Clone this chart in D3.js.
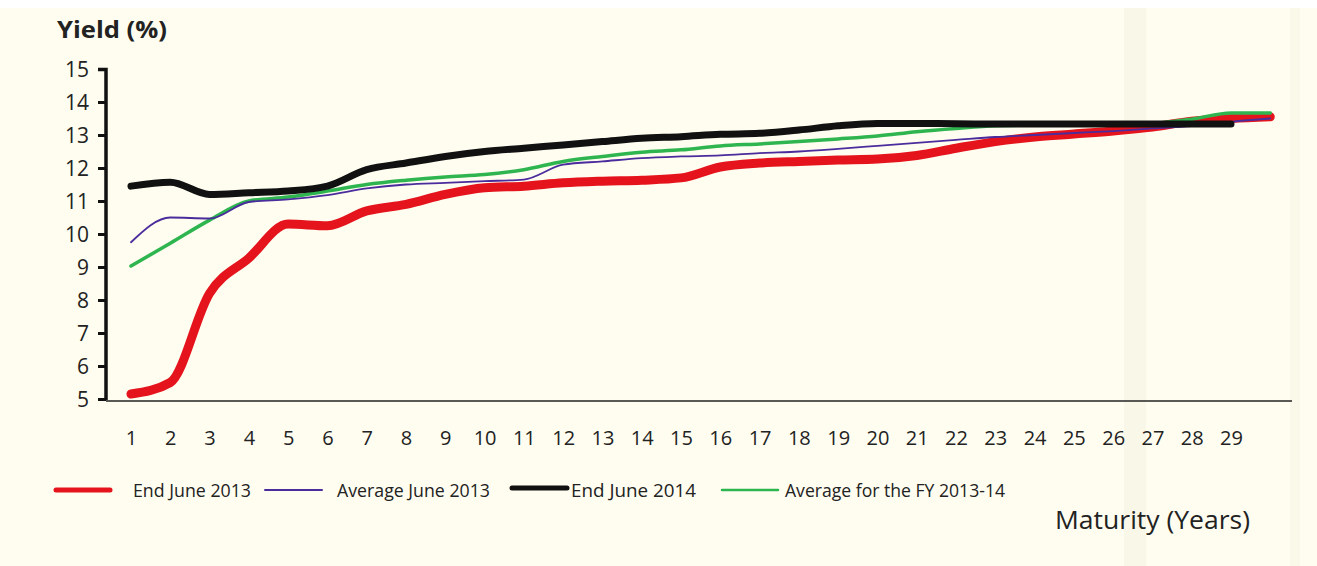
<!DOCTYPE html>
<html><head><meta charset="utf-8">
<script src="https://cdn.jsdelivr.net/npm/d3@7"></script>
<style>
html,body{margin:0;padding:0;background:#fefdf0;}
svg{display:block;}
text{font-family:"Open Sans","Noto Sans",sans-serif;fill:#222;}
</style></head><body>
<svg id="chart" width="1317" height="566"></svg>
<script>
const maturities = d3.range(1, 31);
const xTickLabels = d3.range(1, 30);
const yTicks = [5,6,7,8,9,10,11,12,13,14,15];

const endJune2013 = [5.15,5.5,8.2,9.27,10.3,10.25,10.7,10.9,11.2,11.4,11.45,11.55,11.6,11.63,11.7,12.03,12.15,12.2,12.24,12.27,12.38,12.6,12.8,12.94,13.03,13.12,13.24,13.42,13.5,13.55];
const avgJune2013 = [9.75,10.5,10.47,10.97,11.05,11.18,11.38,11.5,11.55,11.6,11.65,12.1,12.2,12.3,12.35,12.38,12.45,12.5,12.58,12.67,12.76,12.85,12.94,13.0,13.06,13.12,13.2,13.27,13.4,13.5];
const endJune2014 = [11.45,11.57,11.2,11.25,11.3,11.45,11.95,12.15,12.35,12.5,12.6,12.7,12.8,12.9,12.95,13.02,13.05,13.15,13.28,13.35,13.35,13.34,13.33,13.33,13.33,13.33,13.33,13.33,13.33];
const avgFY201314 = [9.03,9.72,10.42,11.0,11.12,11.3,11.5,11.63,11.73,11.8,11.95,12.2,12.35,12.48,12.55,12.67,12.73,12.8,12.88,12.97,13.1,13.2,13.28,13.3,13.3,13.33,13.35,13.48,13.67,13.67];

const seriesNames = ["End June 2013","Average June 2013","End June 2014","Average for the FY 2013-14"];
const seriesColors = ["#e5141c","#4b2c9c","#111111","#2fb54f"];
const seriesWidths = [9,1.8,7,3.5];
const seriesData = [endJune2013, avgJune2013, endJune2014, avgFY201314];

const svg = d3.select("#chart");
svg.append("rect").attr("width",1317).attr("height",566).attr("fill","#fefdf0");
svg.append("rect").attr("width",1317).attr("height",8).attr("fill","#ffffff");
// faint scan stripes
svg.append("rect").attr("x",1124).attr("y",8).attr("width",22).attr("height",558).attr("fill","#f5f4e2").attr("opacity",0.6);
svg.append("rect").attr("x",1290).attr("y",8).attr("width",10).attr("height",558).attr("fill","#f6f5e4").attr("opacity",0.6);

const x = d3.scaleLinear().domain([1,29]).range([131,1231]);
const y = d3.scaleLinear().domain([5,15]).range([399,69]);

// y axis
const yAxis = d3.axisLeft(y).tickValues(yTicks).tickSize(8).tickPadding(9).tickFormat(d3.format("d"));
const gy = svg.append("g").attr("transform","translate(106,0)").call(yAxis);
gy.select(".domain").attr("stroke","#111").attr("stroke-width",3.5).attr("d","M-8,69.5H0V400");
gy.selectAll(".tick line").attr("stroke","#111").attr("stroke-width",3);
gy.selectAll(".tick text").attr("font-size",21).attr("font-family","Open Sans, sans-serif").attr("fill","#222").attr("dy","0.36em");

// x axis
const xAxis = d3.axisBottom(x).tickValues(xTickLabels).tickSize(0).tickPadding(30).tickFormat(d3.format("d"));
const gx = svg.append("g").attr("transform","translate(0,401)").call(xAxis);
gx.select(".domain").attr("stroke","#222").attr("stroke-width",1.6).attr("d","M106,0H1292");
gx.selectAll(".tick text").attr("font-size",20).attr("font-family","Open Sans, sans-serif").attr("fill","#222");

// lines
const line = d3.line().x((d,i)=>x(maturities[i])).y(d=>y(d)).curve(d3.curveMonotoneX);
const drawOrder = [0,3,1,2];
drawOrder.forEach(k=>{
  svg.append("path").datum(seriesData[k]).attr("d",line)
    .attr("fill","none").attr("stroke",seriesColors[k]).attr("stroke-width",seriesWidths[k])
    .attr("stroke-linecap","round").attr("stroke-linejoin","round");
});

// titles
svg.append("text").attr("x",57).attr("y",38).attr("font-size",24).attr("font-weight","bold")
  .attr("textLength",110).attr("lengthAdjust","spacingAndGlyphs").text("Yield (%)");
svg.append("text").attr("x",1055).attr("y",529).attr("font-size",26).attr("textLength",195).attr("lengthAdjust","spacingAndGlyphs").text("Maturity (Years)");

// legend
const legendItems = [
  {lx:[56,110], tx:133, tw:118, ly:490},
  {lx:[265,322], tx:337, tw:153, ly:490},
  {lx:[512,567], tx:571, tw:125, ly:488},
  {lx:[722,778], tx:785, tw:220, ly:490}
];
const legendWidths = [5,2,5,2.5];
legendItems.forEach((it,k)=>{
  svg.append("line").attr("x1",it.lx[0]).attr("x2",it.lx[1]).attr("y1",it.ly).attr("y2",it.ly)
    .attr("stroke",seriesColors[k]).attr("stroke-width",legendWidths[k]).attr("stroke-linecap","round");
  svg.append("text").attr("x",it.tx).attr("y",497).attr("font-size",18)
    .attr("textLength",it.tw).attr("lengthAdjust","spacingAndGlyphs").text(seriesNames[k]);
});
</script>
</body></html>
